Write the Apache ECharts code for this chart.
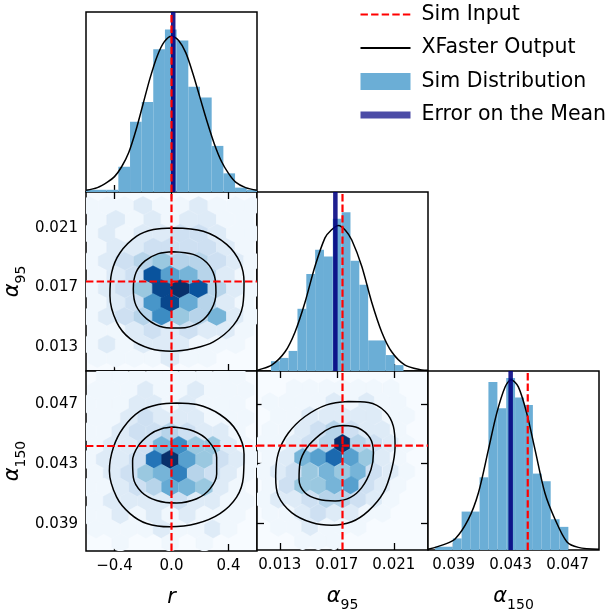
<!DOCTYPE html>
<html><head><meta charset="utf-8">
<script src="https://cdn.jsdelivr.net/npm/echarts@6/dist/echarts.min.js"></script>
<style>html,body{margin:0;padding:0;background:#fff}#c{width:608px;height:613px}</style>
</head><body><div id="c"></div>
<script>
// ---------------- data ----------------
const rTicks = [-0.4, 0.0, 0.4];
const rTickLabels = ['\u22120.4', '0.0', '0.4'];
const a95Ticks = [0.013, 0.017, 0.021];
const a95TickLabels = ['0.013', '0.017', '0.021'];
const a150Ticks = [0.039, 0.043, 0.047];
const a150TickLabels = ['0.039', '0.043', '0.047'];

const simInputR = 0.0, simInputA95 = 0.0174, simInputA150 = 0.0442;
const meanR = 0.012, meanA95 = 0.0169, meanA150 = 0.0430;

const histREdges = [-0.619,-0.537,-0.455,-0.373,-0.291,-0.209,-0.128,-0.046,0.036,0.118,0.200,0.282,0.364,0.446,0.528,0.610];
const histRCounts = [1,1,1,11.5,32,41,65,74,69,48,43,21,8.5,2,1];
const histA95Edges = [0.01238,0.01300,0.01362,0.01424,0.01486,0.01548,0.01610,0.01672,0.01734,0.01796,0.01858,0.01920,0.01982,0.02044,0.02106,0.02168];
const histA95Counts = [4.5,6,9.2,28.5,44.4,55.5,52.4,69.7,72.7,50.5,39.5,14,14,7.3,2.7];
const histA150Edges = [0.0377,0.03832,0.03894,0.03956,0.04020,0.04082,0.04144,0.04207,0.04269,0.04331,0.04394,0.04456,0.04518,0.04581,0.04643,0.04705];
const histA150Counts = [1.5,1.5,5.3,17.6,17.6,33.3,77,64.9,78.8,69.9,66.4,35,31.5,14.1,10.6];

const curveR = [[-0.60,0.8],[-0.52,2],[-0.45,4.5],[-0.40,7],[-0.35,11.5],[-0.30,18],[-0.25,28],[-0.20,40],[-0.15,52],[-0.10,62],[-0.05,68.5],[0.00,71],[0.05,69],[0.10,63.5],[0.15,54],[0.20,43],[0.25,32],[0.30,22],[0.35,14],[0.40,8.5],[0.45,4.5],[0.52,2],[0.60,0.8]];
const curveA95 = [[0.0114,0.3],[0.0115,0.5],[0.01243,2.7],[0.01337,8.8],[0.01407,17.9],[0.01477,31.5],[0.01547,48],[0.01617,61],[0.0166,64.5],[0.01711,66.7],[0.0176,64.5],[0.01805,60],[0.01875,48],[0.01945,31.5],[0.02015,17.9],[0.02085,8.8],[0.02179,2.7],[0.02296,0.5],[0.0234,0.3]];
const curveA150 = [[0.0372,0.3],[0.0384,2.7],[0.0391,5],[0.04003,14],[0.04073,26],[0.04144,46],[0.04202,62.6],[0.04261,74.7],[0.04303,78],[0.04354,74.7],[0.04413,62.6],[0.04471,46],[0.04541,26],[0.04612,14],[0.04694,3.8],[0.04775,1.2],[0.0492,0.3]];

const contourAOuter = [[0.013,0.02099],[0.223,0.02077],[0.387,0.01989],[0.481,0.01867],[0.509,0.01734],[0.500,0.01579],[0.434,0.01446],[0.294,0.01335],[0.153,0.01291],[0.001,0.01273],[-0.151,0.01291],[-0.291,0.01357],[-0.385,0.01468],[-0.432,0.01645],[-0.420,0.018],[-0.361,0.01933],[-0.244,0.02044],[-0.127,0.02088]];
const contourAInner = [[0.013,0.0194],[0.153,0.01922],[0.247,0.01867],[0.301,0.01778],[0.312,0.01667],[0.282,0.01557],[0.200,0.01468],[0.060,0.01428],[-0.057,0.01434],[-0.174,0.0149],[-0.249,0.01579],[-0.268,0.0169],[-0.249,0.018],[-0.186,0.01878],[-0.092,0.01927]];
const contourBOuter = [[0.036,0.04707],[0.177,0.04696],[0.340,0.0463],[0.457,0.0452],[0.509,0.04366],[0.504,0.04211],[0.457,0.04079],[0.340,0.03969],[0.177,0.03903],[-0.011,0.03881],[-0.174,0.03903],[-0.291,0.03969],[-0.385,0.04079],[-0.436,0.04255],[-0.408,0.0441],[-0.338,0.04542],[-0.221,0.04652],[-0.092,0.04696]];
const contourBInner = [[0.013,0.04546],[0.153,0.0452],[0.259,0.04454],[0.317,0.04344],[0.317,0.04233],[0.270,0.04134],[0.177,0.04068],[0.036,0.0404],[-0.104,0.04057],[-0.209,0.04112],[-0.268,0.04211],[-0.273,0.04321],[-0.233,0.04421],[-0.151,0.04498],[-0.069,0.04535]];
const contourCOuter = [[0.01781,0.04715],[0.01922,0.04709],[0.02039,0.04649],[0.02097,0.04549],[0.02109,0.04415],[0.02085,0.0426],[0.02027,0.04104],[0.01922,0.03982],[0.01805,0.03909],[0.01664,0.03886],[0.01524,0.03904],[0.01383,0.03971],[0.0129,0.04082],[0.01271,0.04215],[0.0129,0.04371],[0.0136,0.04504],[0.01477,0.04615],[0.01629,0.04693]];
const contourCInner = [[0.01746,0.04555],[0.01851,0.04538],[0.01933,0.04471],[0.01957,0.04371],[0.0194,0.0426],[0.01875,0.04138],[0.01793,0.04071],[0.01688,0.04049],[0.01571,0.0406],[0.01477,0.04104],[0.01435,0.04193],[0.01442,0.04304],[0.01489,0.04404],[0.01582,0.04493],[0.01664,0.04542]];

// hexbin cells: [x, y, level]
const hexA = [
[-0.58,0.02248,1],[-0.45,0.02248,1],[-0.33,0.02248,1],[-0.20,0.02248,2],[-0.07,0.02248,1],[0.06,0.02248,1],[0.19,0.02248,2],[0.32,0.02248,1],[0.45,0.02248,1],[0.57,0.02248,1],
[-0.52,0.02155,1],[-0.39,0.02155,2],[-0.26,0.02155,1],[-0.13,0.02155,2],[-0.01,0.02155,1],[0.12,0.02155,2],[0.25,0.02155,2],[0.38,0.02155,1],[0.51,0.02155,1],
[-0.58,0.02062,1],[-0.45,0.02062,2],[-0.33,0.02062,1],[-0.20,0.02062,2],[-0.07,0.02062,2],[0.06,0.02062,3],[0.19,0.02062,3],[0.32,0.02062,2],[0.45,0.02062,1],[0.57,0.02062,1],
[-0.52,0.01969,1],[-0.39,0.01969,2],[-0.26,0.01969,2],[-0.13,0.01969,3],[-0.01,0.01969,3],[0.12,0.01969,3],[0.25,0.01969,3],[0.38,0.01969,2],[0.51,0.01969,1],
[-0.58,0.01876,1],[-0.45,0.01876,2],[-0.33,0.01876,3],[-0.20,0.01876,4],[-0.07,0.01876,5],[0.06,0.01876,4],[0.19,0.01876,4],[0.32,0.01876,3],[0.45,0.01876,2],[0.57,0.01876,1],
[-0.52,0.01783,1],[-0.39,0.01783,2],[-0.26,0.01783,3],[-0.13,0.01783,10.5],[-0.01,0.01783,7],[0.12,0.01783,6],[0.25,0.01783,4],[0.38,0.01783,2],[0.51,0.01783,1],
[-0.58,0.0169,1],[-0.45,0.0169,2],[-0.33,0.0169,3],[-0.20,0.0169,5],[-0.07,0.0169,11],[0.06,0.0169,12],[0.19,0.0169,10.5],[0.32,0.0169,4],[0.45,0.0169,2],[0.57,0.0169,1],
[-0.52,0.01597,1],[-0.39,0.01597,2],[-0.26,0.01597,3],[-0.13,0.01597,7.5],[-0.01,0.01597,11],[0.12,0.01597,6.5],[0.25,0.01597,4],[0.38,0.01597,2],[0.51,0.01597,1],
[-0.58,0.01504,1],[-0.45,0.01504,2],[-0.33,0.01504,3],[-0.20,0.01504,4],[-0.07,0.01504,8],[0.06,0.01504,5],[0.19,0.01504,4],[0.32,0.01504,6],[0.45,0.01504,2],[0.57,0.01504,1],
[-0.52,0.01411,1],[-0.39,0.01411,1],[-0.26,0.01411,2],[-0.13,0.01411,3],[-0.01,0.01411,2],[0.12,0.01411,3],[0.25,0.01411,2],[0.38,0.01411,2],[0.51,0.01411,1],
[-0.58,0.01318,1],[-0.45,0.01318,2],[-0.33,0.01318,1],[-0.20,0.01318,2],[-0.07,0.01318,2],[0.06,0.01318,2],[0.19,0.01318,1],[0.32,0.01318,1],[0.45,0.01318,1],
[-0.52,0.01225,1],[-0.39,0.01225,1],[-0.26,0.01225,1],[-0.13,0.01225,1],[-0.01,0.01225,2],[0.12,0.01225,1],[0.25,0.01225,1]
];
const hexB = [
[-0.47,0.04886,1],[-0.36,0.04886,1],[-0.24,0.04886,1],[-0.12,0.04886,1],[-0.01,0.04886,1],[0.11,0.04886,1],[0.23,0.04886,1],[0.35,0.04886,1],[0.46,0.04886,1],
[-0.53,0.04793,1],[-0.42,0.04793,1],[-0.30,0.04793,1],[-0.18,0.04793,2],[-0.07,0.04793,1],[0.05,0.04793,1],[0.17,0.04793,2],[0.29,0.04793,1],[0.40,0.04793,1],[0.52,0.04793,1],
[-0.59,0.0470,1],[-0.47,0.0470,1],[-0.36,0.0470,1],[-0.24,0.0470,2],[-0.12,0.0470,2],[-0.01,0.0470,1],[0.11,0.0470,2],[0.23,0.0470,1],[0.35,0.0470,1],[0.46,0.0470,1],
[-0.53,0.04608,1],[-0.42,0.04608,1],[-0.30,0.04608,2],[-0.18,0.04608,3],[-0.07,0.04608,2],[0.05,0.04608,2],[0.17,0.04608,2],[0.29,0.04608,1],[0.40,0.04608,1],[0.52,0.04608,1],
[-0.59,0.04515,1],[-0.47,0.04515,1],[-0.36,0.04515,2],[-0.24,0.04515,3],[-0.12,0.04515,3],[-0.01,0.04515,4],[0.11,0.04515,3],[0.23,0.04515,2],[0.35,0.04515,2],[0.46,0.04515,1],
[-0.53,0.04423,1],[-0.42,0.04423,2],[-0.30,0.04423,2],[-0.18,0.04423,3],[-0.07,0.04423,6],[0.05,0.04423,8],[0.17,0.04423,5],[0.29,0.04423,5],[0.40,0.04423,2],[0.52,0.04423,1],
[-0.59,0.0433,1],[-0.47,0.0433,2],[-0.36,0.0433,2],[-0.24,0.0433,3],[-0.12,0.0433,9],[-0.01,0.0433,12],[0.11,0.0433,7],[0.23,0.0433,5],[0.35,0.0433,3],[0.46,0.0433,2],[0.58,0.0433,1],
[-0.53,0.04237,1],[-0.42,0.04237,2],[-0.30,0.04237,3],[-0.18,0.04237,5],[-0.07,0.04237,6],[0.05,0.04237,8.5],[0.17,0.04237,4],[0.29,0.04237,3],[0.40,0.04237,2],[0.52,0.04237,1],
[-0.59,0.04145,1],[-0.47,0.04145,1],[-0.36,0.04145,2],[-0.24,0.04145,3],[-0.12,0.04145,4],[-0.01,0.04145,6.5],[0.11,0.04145,6],[0.23,0.04145,5],[0.35,0.04145,2],[0.46,0.04145,1],
[-0.53,0.04052,1],[-0.42,0.04052,2],[-0.30,0.04052,2],[-0.18,0.04052,2],[-0.07,0.04052,2],[0.05,0.04052,3],[0.17,0.04052,2],[0.29,0.04052,2],[0.40,0.04052,1],[0.52,0.04052,1],
[-0.59,0.0396,1],[-0.47,0.0396,1],[-0.36,0.0396,2],[-0.24,0.0396,1],[-0.12,0.0396,2],[-0.01,0.0396,1],[0.11,0.0396,2],[0.23,0.0396,1],[0.35,0.0396,1],[0.46,0.0396,1],
[-0.53,0.03867,1],[-0.42,0.03867,1],[-0.30,0.03867,1],[-0.18,0.03867,1],[-0.07,0.03867,2],[0.05,0.03867,1],[0.17,0.03867,1],[0.29,0.03867,2],[0.40,0.03867,1],
[-0.36,0.03774,1],[-0.01,0.03774,1],[0.23,0.03774,1]
];
const hexC = [
[0.0140,0.04806,1],[0.0151,0.04806,1],[0.0163,0.04806,1],[0.0174,0.04806,1],[0.0185,0.04806,1],[0.0196,0.04806,1],[0.0208,0.04806,1],
[0.0123,0.04713,1],[0.0135,0.04713,1],[0.0146,0.04713,1],[0.0157,0.04713,1],[0.0168,0.04713,2],[0.0180,0.04713,1],[0.0191,0.04713,2],[0.0202,0.04713,1],[0.0213,0.04713,1],
[0.0129,0.0462,1],[0.0140,0.0462,1],[0.0151,0.0462,2],[0.0163,0.0462,2],[0.0174,0.0462,2],[0.0185,0.0462,2],[0.0196,0.0462,2],[0.0208,0.0462,1],[0.0219,0.0462,1],
[0.0123,0.04526,1],[0.0135,0.04526,1],[0.0146,0.04526,2],[0.0157,0.04526,3],[0.0168,0.04526,4],[0.0180,0.04526,3],[0.0191,0.04526,2],[0.0202,0.04526,2],[0.0213,0.04526,1],
[0.0118,0.04433,1],[0.0129,0.04433,1],[0.0140,0.04433,2],[0.0151,0.04433,3],[0.0163,0.04433,4],[0.0174,0.04433,12],[0.0185,0.04433,4],[0.0196,0.04433,3],[0.0208,0.04433,2],[0.0219,0.04433,1],
[0.0123,0.0434,1],[0.0135,0.0434,2],[0.0146,0.0434,6],[0.0157,0.0434,7],[0.0168,0.0434,9.5],[0.0180,0.0434,7],[0.0191,0.0434,5],[0.0202,0.0434,2],[0.0213,0.0434,1],
[0.0118,0.04246,1],[0.0129,0.04246,2],[0.0140,0.04246,3],[0.0151,0.04246,5],[0.0163,0.04246,6],[0.0174,0.04246,5],[0.0185,0.04246,6],[0.0196,0.04246,3],[0.0208,0.04246,2],[0.0219,0.04246,1],
[0.0123,0.04153,1],[0.0135,0.04153,3],[0.0146,0.04153,5],[0.0157,0.04153,5],[0.0168,0.04153,6],[0.0180,0.04153,7],[0.0191,0.04153,3],[0.0202,0.04153,2],[0.0213,0.04153,1],
[0.0118,0.0406,1],[0.0129,0.0406,2],[0.0140,0.0406,2],[0.0151,0.0406,3],[0.0163,0.0406,4],[0.0174,0.0406,4],[0.0185,0.0406,3],[0.0196,0.0406,2],[0.0208,0.0406,1],
[0.0123,0.03966,1],[0.0135,0.03966,1],[0.0146,0.03966,2],[0.0157,0.03966,3],[0.0168,0.03966,2],[0.0180,0.03966,2],[0.0191,0.03966,1],[0.0202,0.03966,1],
[0.0129,0.03873,1],[0.0140,0.03873,1],[0.0151,0.03873,2],[0.0163,0.03873,1],[0.0174,0.03873,1],[0.0185,0.03873,1],
[0.0146,0.0378,1],[0.0157,0.0378,1],[0.0168,0.0378,1]
];

// ---------------- styling / layout ----------------
const rRange = [-0.6, 0.6], a95Range = [0.0114, 0.0234], a150Range = [0.0372, 0.0492];
const countRange = [0, 82];
const blues = ['#f7fbff','#deebf7','#c6dbef','#9ecae1','#6baed6','#4292c6','#2171b5','#08519c','#08306b'];
const FONT = 'DejaVu Sans';
const nameStyle = {rich: {
  i: {fontFamily: FONT, fontStyle: 'italic', fontSize: 21, color: '#000', lineHeight: 26, verticalAlign: 'top'},
  s: {fontFamily: FONT, fontSize: 14, color: '#000', lineHeight: 14, verticalAlign: 'bottom'}
}};

const grids = [
  {left: 86, top: 12, width: 171, height: 180, bg: '#fff'},
  {left: 86, top: 192, width: 171, height: 179, bg: '#f7fbff'},
  {left: 257, top: 192, width: 171, height: 179, bg: '#fff'},
  {left: 86, top: 371, width: 171, height: 180, bg: '#f7fbff'},
  {left: 257, top: 371, width: 171, height: 180, bg: '#f7fbff'},
  {left: 428, top: 371, width: 171, height: 180, bg: '#fff'}
].map(g => ({left: g.left, top: g.top, width: g.width, height: g.height, show: true,
  borderColor: '#000', borderWidth: 1.5, backgroundColor: g.bg}));

function axis(gridIndex, range, ticks, labels, position, showLabel, name, nameGap) {
  const o = {
    type: 'value', gridIndex, min: range[0], max: range[1], position,
    axisLine: {show: false}, splitLine: {show: false},
    axisTick: {show: true, inside: true, length: 7, customValues: ticks, lineStyle: {color: '#000', width: 1.3}},
    axisLabel: {show: showLabel, customValues: ticks, margin: 8, fontSize: 15, fontFamily: FONT, color: '#000',
      formatter: v => { const i = ticks.findIndex(t => Math.abs(t - v) < 1e-9); return i < 0 ? '' : labels[i]; }}
  };
  if (name) { o.name = name; o.nameLocation = 'middle'; o.nameGap = nameGap; o.nameTextStyle = nameStyle; }
  return o;
}
const hidden = g => ({type: 'value', gridIndex: g, min: countRange[0], max: countRange[1], show: false});

const xAxis = [
  axis(0, rRange, rTicks, rTickLabels, 'bottom', false),
  axis(1, rRange, rTicks, rTickLabels, 'bottom', false),
  axis(1, rRange, rTicks, rTickLabels, 'top', false),
  axis(2, a95Range, a95Ticks, a95TickLabels, 'bottom', false),
  axis(3, rRange, rTicks, rTickLabels, 'bottom', true, '{i|r}', 36),
  axis(3, rRange, rTicks, rTickLabels, 'top', false),
  axis(4, a95Range, a95Ticks, a95TickLabels, 'bottom', true, '{i|\u03b1}{s|95}', 36),
  axis(4, a95Range, a95Ticks, a95TickLabels, 'top', false),
  axis(5, a150Range, a150Ticks, a150TickLabels, 'bottom', true, '{i|\u03b1}{s|150}', 36)
];
const yAxis = [
  hidden(0),
  axis(1, a95Range, a95Ticks, a95TickLabels, 'left', true, '{i|\u03b1}{s|95}', 58),
  axis(1, a95Range, a95Ticks, a95TickLabels, 'right', false),
  hidden(2),
  axis(3, a150Range, a150Ticks, a150TickLabels, 'left', true, '{i|\u03b1}{s|150}', 58),
  axis(3, a150Range, a150Ticks, a150TickLabels, 'right', false),
  axis(4, a150Range, a150Ticks, a150TickLabels, 'left', false),
  axis(4, a150Range, a150Ticks, a150TickLabels, 'right', false),
  hidden(5)
];
// panel -> [xAxisIndex, yAxisIndex, xRange, yRange]
const P = {
  histR: [0, 0, rRange, countRange], A: [1, 1, rRange, a95Range], histA95: [3, 3, a95Range, countRange],
  B: [4, 4, rRange, a150Range], C: [6, 6, a95Range, a150Range], histA150: [8, 8, a150Range, countRange]
};

const series = [];
const hexIdx = [];
const BAR = '#6baed6';

function histSeries(p, edges, counts) {
  series.push({
    type: 'custom', name: 'Sim Distribution', xAxisIndex: p[0], yAxisIndex: p[1], clip: true, z: 1,
    itemStyle: {color: BAR}, encode: {x: [0, 1], y: 2},
    data: counts.map((c, i) => [edges[i], edges[i + 1], c]),
    renderItem: (params, api) => {
      const p0 = api.coord([api.value(0), 0]);
      const p1 = api.coord([api.value(1), api.value(2)]);
      return {type: 'rect', shape: {x: p0[0], y: p1[1], width: p1[0] - p0[0], height: p0[1] - p1[1]},
        style: {fill: BAR}};
    }
  });
}
function hexSeries(p, cells, sx, rowH) {
  hexIdx.push(series.length);
  series.push({
    type: 'custom', name: 'hex', xAxisIndex: p[0], yAxisIndex: p[1], clip: true, z: 1,
    encode: {x: 0, y: 1}, data: cells,
    renderItem: (params, api) => {
      const c = api.coord([api.value(0), api.value(1)]);
      const s = api.size([sx, rowH]);
      const w = s[0] / 2, h = s[1];
      const pts = [[c[0], c[1] - 2 * h / 3], [c[0] + w, c[1] - h / 3], [c[0] + w, c[1] + h / 3],
                   [c[0], c[1] + 2 * h / 3], [c[0] - w, c[1] + h / 3], [c[0] - w, c[1] - h / 3]];
      const col = api.visual('color');
      return {type: 'polygon', shape: {points: pts}, style: {fill: col, stroke: col, lineWidth: 0.5}};
    }
  });
}
function curveSeries(p, data, closed) {
  series.push({
    type: 'line', name: 'XFaster Output', xAxisIndex: p[0], yAxisIndex: p[1], z: 3,
    data: closed ? data.concat([data[0]]) : data, smooth: closed ? 0.35 : 0.3, symbol: 'none', clip: true,
    color: '#000', lineStyle: {color: '#000', width: 1.5}, silent: true
  });
}
// vertical / horizontal reference lines drawn as two-point line series across the axis range
function vLine(name, p, xv, ls, z) {
  series.push({type: 'line', name, xAxisIndex: p[0], yAxisIndex: p[1], z, symbol: 'none', silent: true,
    color: ls.color, lineStyle: ls, data: [[xv, p[3][0]], [xv, p[3][1]]]});
}
function hLine(name, p, yv, ls, z) {
  series.push({type: 'line', name, xAxisIndex: p[0], yAxisIndex: p[1], z, symbol: 'none', silent: true,
    color: ls.color, lineStyle: ls, data: [[p[2][0], yv], [p[2][1], yv]]});
}

histSeries(P.histR, histREdges, histRCounts);
histSeries(P.histA95, histA95Edges, histA95Counts);
histSeries(P.histA150, histA150Edges, histA150Counts);
hexSeries(P.A, hexA, 0.1285, 0.00093);
hexSeries(P.B, hexB, 0.117, 0.000926);
hexSeries(P.C, hexC, 0.001123, 0.000933);
curveSeries(P.histR, curveR, false);
curveSeries(P.histA95, curveA95, false);
curveSeries(P.histA150, curveA150, false);
curveSeries(P.A, contourAOuter, true); curveSeries(P.A, contourAInner, true);
curveSeries(P.B, contourBOuter, true); curveSeries(P.B, contourBInner, true);
curveSeries(P.C, contourCOuter, true); curveSeries(P.C, contourCInner, true);

const navy = {color: '#000080', width: 4.5, opacity: 0.88, type: 'solid'};
vLine('Error on the Mean', P.histR, meanR, navy, 4);
vLine('Error on the Mean', P.histA95, meanA95, navy, 4);
vLine('Error on the Mean', P.histA150, meanA150, navy, 4);

const red = {color: '#ff0000', width: 2.2, type: [7.4, 3.2]};
vLine('Sim Input', P.histR, simInputR, red, 5);
vLine('Sim Input', P.A, simInputR, red, 5); hLine('Sim Input', P.A, simInputA95, red, 5);
vLine('Sim Input', P.histA95, simInputA95, red, 5);
vLine('Sim Input', P.B, simInputR, red, 5); hLine('Sim Input', P.B, simInputA150, red, 5);
vLine('Sim Input', P.C, simInputA95, red, 5); hLine('Sim Input', P.C, simInputA150, red, 5);
vLine('Sim Input', P.histA150, simInputA150, red, 5);

const chart = echarts.init(document.getElementById('c'), null, {renderer: 'canvas'});
chart.setOption({
  animation: false,
  backgroundColor: '#fff',
  grid: grids,
  xAxis, yAxis,
  visualMap: {type: 'continuous', show: false, min: 0.6, max: 12, dimension: 2, seriesIndex: hexIdx,
    inRange: {color: blues}},
  legend: {
    orient: 'vertical', left: 352, top: -1, itemWidth: 50, itemHeight: 17, itemGap: 12.5,
    selectedMode: false,
    textStyle: {fontFamily: FONT, fontSize: 20.5, color: '#000', padding: [0, 0, 0, 6]},
    data: [
      {name: 'Sim Input', itemStyle: {opacity: 0}, lineStyle: {color: '#ff0000', width: 2.2, type: [7.4, 3.2]}},
      {name: 'XFaster Output', itemStyle: {opacity: 0}, lineStyle: {color: '#000', width: 2}},
      {name: 'Sim Distribution', icon: 'rect', itemStyle: {color: BAR}},
      {name: 'Error on the Mean', itemStyle: {opacity: 0}, lineStyle: {color: '#000080', width: 7, opacity: 0.7}}
    ]
  },
  series
});
</script></body></html>
